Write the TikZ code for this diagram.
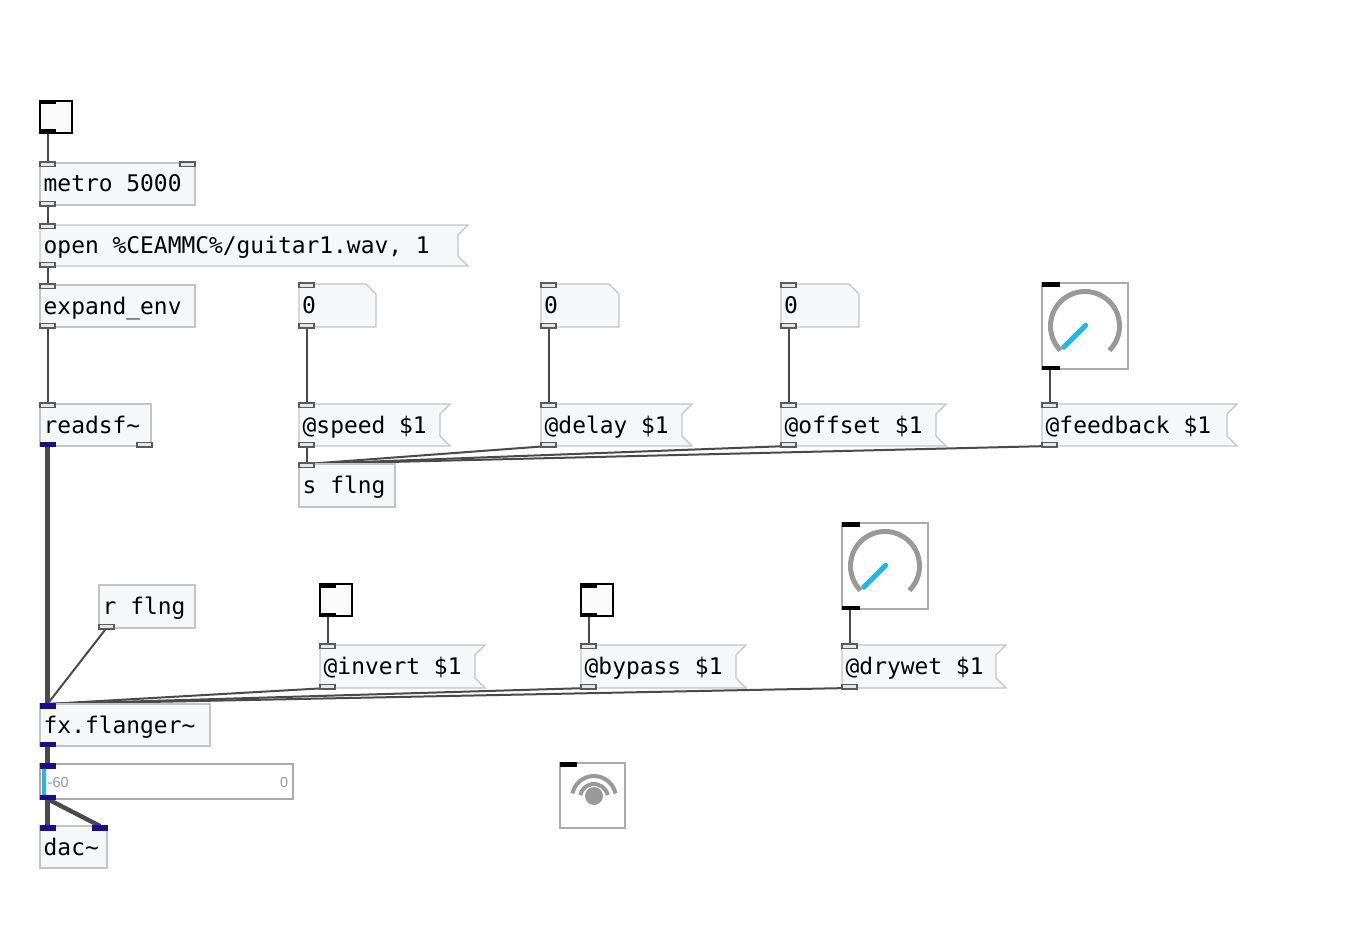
\documentclass[tikz,border=0pt]{standalone}
\usepackage{fontspec}
\newfontfamily\pdfont{DejaVu Sans Mono}
\newfontfamily\lblfont{Liberation Sans}
\pgfdeclarelayer{bg}
\pgfsetlayers{bg,main}
\definecolor{boxfill}{HTML}{F6F7F9}
\definecolor{boxline}{HTML}{C4C4C4}
\definecolor{wirecol}{HTML}{4A4A4A}
\definecolor{portline}{HTML}{5A5A5A}
\definecolor{portfill}{HTML}{E6E6E6}
\definecolor{sigblue}{HTML}{1E0A9A}
\definecolor{knobgray}{HTML}{999999}
\definecolor{uicyan}{HTML}{1DB8F2}
\definecolor{uiborder}{HTML}{ABABAB}
\definecolor{lblgray}{HTML}{999999}
\tikzset{
  objbox/.style={draw=boxline, fill=boxfill, line width=1.3pt, inner sep=0pt, outer sep=0pt, anchor=north west},
  ghostbox/.style={inner sep=0pt, outer sep=0pt, anchor=north west},
  msgline/.style={draw=boxline, fill=boxfill, line width=1.3pt, line join=miter},
  pdtxt/.style={font=\pdfont\fontsize{22.9pt}{27pt}\selectfont, inner sep=0pt, anchor=base west},
  mlbl/.style={font=\lblfont\fontsize{14.5pt}{16pt}\selectfont, text=lblgray, inner sep=0pt},
  cport/.style={draw=portline, fill=portfill, line width=1.5pt},
  cwire/.style={draw=wirecol, line width=2pt},
  swire/.style={draw=wirecol, line width=4.4pt},
  tglbox/.style={draw=black, fill=white!98!black, line width=2pt, inner sep=0pt, outer sep=0pt, anchor=north west, minimum width=32pt, minimum height=32pt},
  uibox/.style={draw=uiborder, fill=white, line width=1.5pt, inner sep=0pt, outer sep=0pt, anchor=north west},
}
\newcommand\pdobj[6]{%
  \node[objbox, minimum width={(#4-#2)*1pt}, minimum height={(#5-#3)*1pt}] (#1) at (#2,#3) {};
  \node[pdtxt] (#1-t) at (#2+3.5,#3+29) {#6};}
\newcommand\pdmsg[6]{%
  \node[ghostbox, minimum width={(#4-#2)*1pt}, minimum height={(#5-#3)*1pt}] (#1) at (#2,#3) {};
  \path[msgline] (#1.north west) -- (#1.north east) -- ([xshift=-10pt,yshift=-10pt]#1.north east)
     -- ([xshift=-10pt,yshift=10pt]#1.south east) -- (#1.south east) -- (#1.south west) -- cycle;
  \node[pdtxt] (#1-t) at (#2+3.5,#3+29) {#6};}
\newcommand\pdnum[6]{%
  \node[ghostbox, minimum width={(#4-#2)*1pt}, minimum height={(#5-#3)*1pt}] (#1) at (#2,#3) {};
  \path[msgline] (#1.north west) -- ([xshift=-10pt]#1.north east) -- ([yshift=-10pt]#1.north east)
     -- (#1.south east) -- (#1.south west) -- cycle;
  \node[pdtxt] (#1-t) at (#2+3,#3+29) {#6};
  \cin{#1}{0}\cout{#1}{0}}
\newcommand\cin[2]{\path[cport] ([xshift=#2pt,yshift=1pt]#1.north west) rectangle ++(15pt,-4.5pt);}
\newcommand\cout[2]{\path[cport] ([xshift=#2pt,yshift=-1pt]#1.south west) rectangle ++(15pt,4.5pt);}
\newcommand\sigin[2]{\fill[sigblue] ([xshift=#2pt,yshift=1pt]#1.north west) rectangle ++(16pt,-5.5pt);}
\newcommand\sigout[2]{\fill[sigblue] ([xshift=#2pt,yshift=-1pt]#1.south west) rectangle ++(16pt,5.5pt);}
\newcommand\uiin[2]{\fill[black] ([yshift=1pt]#1.north west) rectangle ++(#2pt,-4.5pt);}
\newcommand\uiout[2]{\fill[black] ([yshift=-1pt]#1.south west) rectangle ++(#2pt,4.5pt);}
\newcommand\pdtgl[3]{%
  \node[tglbox] (#1) at (#2,#3) {};
  \uiin{#1}{16}\uiout{#1}{16}}
\newcommand\pdknob[3]{%
  \node[uibox, minimum width=86pt, minimum height=86pt] (#1) at (#2,#3) {};
  \draw[knobgray, line width=5pt] ([shift={(225:34.5pt)}]#1.center) arc[start angle=225, end angle=-45, radius=34.5pt];
  \draw[uicyan, line width=5pt, line cap=round] ([shift={(45:1pt)}]#1.center) -- ([shift={(225:30pt)}]#1.center);
  \uiin{#1}{18}\uiout{#1}{18}}
\newcommand\wire[4]{\draw[cwire] ([xshift=#2pt]#1.south west) -- ([xshift=#4pt]#3.north west);}
\newcommand\swirec[4]{\draw[swire] ([xshift=#2pt]#1.south west) -- ([xshift=#4pt]#3.north west);}
\begin{document}
\begin{tikzpicture}[x=1pt,y=-1pt]
\useasboundingbox (0,0) rectangle (1371,928);

% top chain
\pdtgl{tglA}{40}{101}
\pdobj{metro}{40}{163}{195}{205}{metro 5000}
\cin{metro}{0}\cin{metro}{140}\cout{metro}{0}
\pdmsg{open}{40}{225}{468}{266}{open \%CEAMMC\%/guitar1.wav, 1}
\cin{open}{0}\cout{open}{0}
\pdobj{expand}{40}{285}{195}{327}{expand\_env}
\cin{expand}{0}\cout{expand}{0}
\pdobj{readsf}{40}{404}{151}{446}{readsf\textasciitilde}
\cin{readsf}{0}\sigout{readsf}{0}\cout{readsf}{97}

% number boxes and knob
\pdnum{numA}{299}{284}{376}{327}{0}
\pdnum{numB}{541}{284}{619}{327}{0}
\pdnum{numC}{781}{284}{859}{327}{0}
\pdknob{knobA}{1042}{283}

% messages
\pdmsg{speed}{299}{404}{450}{446}{@speed \$1}
\cin{speed}{0}\cout{speed}{0}
\pdmsg{delay}{541}{404}{692}{446}{@delay \$1}
\cin{delay}{0}\cout{delay}{0}
\pdmsg{offset}{781}{404}{946}{446}{@offset \$1}
\cin{offset}{0}\cout{offset}{0}
\pdmsg{feedback}{1042}{404}{1237}{446}{@feedback \$1}
\cin{feedback}{0}\cout{feedback}{0}
\pdobj{sflng}{299}{464}{395}{507}{s flng}
\cin{sflng}{0}

% lower controls
\pdknob{knobB}{842}{523}
\pdobj{rflng}{99}{585}{195}{628}{r flng}
\cout{rflng}{0}
\pdtgl{tglB}{320}{584}
\pdtgl{tglC}{581}{584}
\pdmsg{invert}{320}{645}{485}{688}{@invert \$1}
\cin{invert}{0}\cout{invert}{0}
\pdmsg{bypass}{581}{645}{746}{688}{@bypass \$1}
\cin{bypass}{0}\cout{bypass}{0}
\pdmsg{drywet}{842}{645}{1006}{688}{@drywet \$1}
\cin{drywet}{0}\cout{drywet}{0}

% signal chain
\pdobj{fx}{40}{704}{210}{746}{fx.flanger\textasciitilde}
\sigin{fx}{0}\sigout{fx}{0}
\node[uibox, minimum width=253pt, minimum height=35pt] (meter) at (40,764) {};
\fill[uicyan] (41.5,769) rectangle (46,795);
\node[mlbl, anchor=base west] (meter-lo) at (47.5,787) {-60};
\node[mlbl, anchor=base east] (meter-hi) at (288.5,787) {0};
\sigin{meter}{0}\sigout{meter}{0}
\pdobj{dac}{40}{826}{107}{868}{dac\textasciitilde}
\sigin{dac}{0}\sigin{dac}{52}

% dsp toggle
\node[uibox, minimum width=65pt, minimum height=65pt] (dsp) at (560,763) {};
\uiin{dsp}{17}
\fill[knobgray] (594,796) circle[radius=9pt];
\draw[knobgray, line width=4pt] (594,798) ++(12:14pt) arc[start angle=12, end angle=168, radius=14pt];
\draw[knobgray, line width=4pt] (594,798) ++(12:22pt) arc[start angle=12, end angle=168, radius=22pt];

% connections
\begin{pgfonlayer}{bg}
\wire{tglA}{7.5}{metro}{7.5}
\wire{metro}{7.5}{open}{7.5}
\wire{open}{7.5}{expand}{7.5}
\wire{expand}{7.5}{readsf}{7.5}
\swirec{readsf}{7.5}{fx}{7.5}
\wire{numA}{7.5}{speed}{7.5}
\wire{numB}{7.5}{delay}{7.5}
\wire{numC}{7.5}{offset}{7.5}
\wire{knobA}{7.5}{feedback}{7.5}
\wire{speed}{7.5}{sflng}{7.5}
\wire{delay}{7.5}{sflng}{7.5}
\wire{offset}{7.5}{sflng}{7.5}
\wire{feedback}{7.5}{sflng}{7.5}
\wire{tglB}{7.5}{invert}{7.5}
\wire{tglC}{7.5}{bypass}{7.5}
\wire{knobB}{7.5}{drywet}{7.5}
\wire{rflng}{7.5}{fx}{7.5}
\wire{invert}{7.5}{fx}{7.5}
\wire{bypass}{7.5}{fx}{7.5}
\wire{drywet}{7.5}{fx}{7.5}
\swirec{fx}{7.5}{meter}{7.5}
\swirec{meter}{7.5}{dac}{7.5}
\swirec{meter}{7.5}{dac}{60}
\end{pgfonlayer}
\end{tikzpicture}
\end{document}
